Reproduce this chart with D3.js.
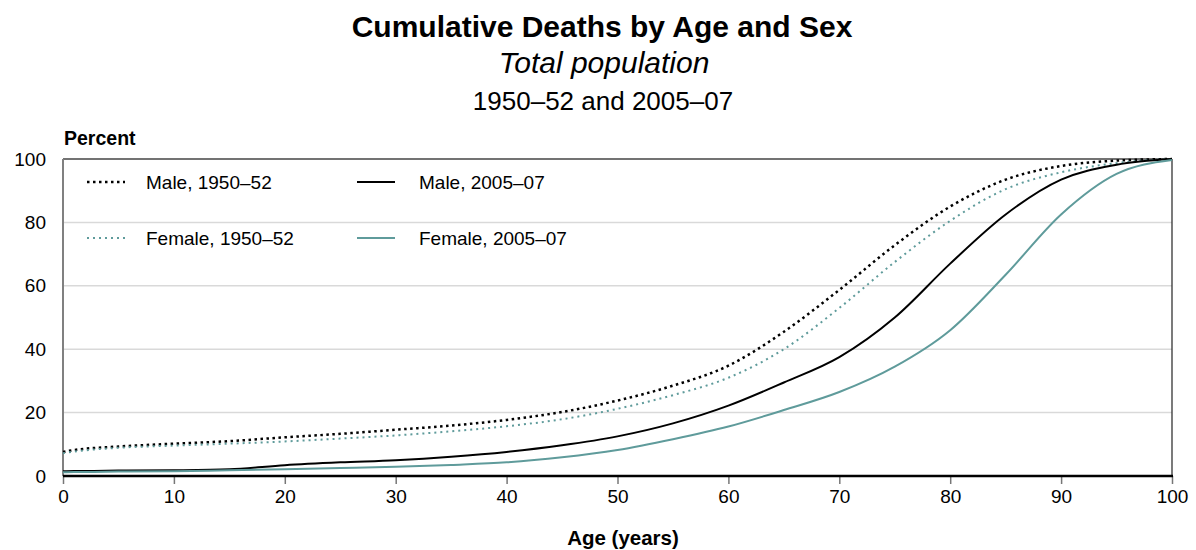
<!DOCTYPE html>
<html><head><meta charset="utf-8">
<script src="https://cdn.jsdelivr.net/npm/d3@7"></script>
<style>
body{margin:0;background:#fff;}
text{font-family:"Liberation Sans",Arial,sans-serif;fill:#000;}
</style></head>
<body><svg id="c" width="1196" height="550"></svg>
<script>
const ages = [0,1,2,5,10,15,20,25,30,35,40,45,50,55,60,65,70,75,80,85,90,95,100];
const male1950   = [7.6,8.2,8.6,9.3,10.2,11.0,12.2,13.3,14.6,15.9,17.7,20.2,23.8,28.5,34.8,45.5,58.7,72.8,85,93.5,97.8,99.5,100];
const female1950 = [7.2,7.7,8.1,8.9,9.6,10.2,10.9,11.8,12.8,14.1,15.7,17.9,21.2,25.5,31.0,40,53,67.5,80.5,90.5,95.8,98.7,100];
const male2005   = [1.5,1.6,1.6,1.7,1.8,2.1,3.4,4.3,5.0,6.1,7.6,9.7,12.5,16.6,22.2,29.5,37.5,50,67,82.5,93.5,98.2,100];
const female2005 = [1.2,1.3,1.3,1.4,1.5,1.8,2.1,2.5,2.9,3.5,4.3,5.9,8.2,11.6,15.6,20.8,26.5,34.5,46,63.5,82.5,95.3,99.7];
const xTicks = [0,10,20,30,40,50,60,70,80,90,100];
const yTicks = [0,20,40,60,80,100];
const seriesNames = ["Male, 1950–52","Female, 1950–52","Male, 2005–07","Female, 2005–07"];

const teal = "#5f9b9b";
const styles = [
  {color:"#000", width:2.5, dash:"2.5,3.5"},
  {color:teal, width:2, dash:"2,4"},
  {color:"#000", width:2, dash:null},
  {color:teal, width:2, dash:null}
];
const data = [male1950,female1950,male2005,female2005];

const svg = d3.select("#c");
const L=63, R=1172, T=159, B=476;
const x = d3.scaleLinear().domain([0,100]).range([L,R]);
const y = d3.scaleLinear().domain([0,100]).range([B,T]);

// titles
svg.append("text").attr("x",602).attr("y",37).attr("text-anchor","middle")
  .style("font-size","30px").style("font-weight","bold").text("Cumulative Deaths by Age and Sex");
svg.append("text").attr("x",604).attr("y",73).attr("text-anchor","middle")
  .style("font-size","30px").style("font-style","italic").text("Total population");
svg.append("text").attr("x",603).attr("y",110).attr("text-anchor","middle")
  .style("font-size","26px").text("1950–52 and 2005–07");

// grid
svg.append("g").selectAll("line").data(yTicks.filter(d=>d>0&&d<100)).join("line")
  .attr("x1",L).attr("x2",R).attr("y1",d=>y(d)).attr("y2",d=>y(d))
  .attr("stroke","#d9d9d9").attr("stroke-width",1.5);

// frame
svg.append("line").attr("x1",L).attr("x2",R).attr("y1",T).attr("y2",T).attr("stroke","#444").attr("stroke-width",1.5);
svg.append("line").attr("x1",R).attr("x2",R).attr("y1",T).attr("y2",B).attr("stroke","#222").attr("stroke-width",1.2);
svg.append("line").attr("x1",L).attr("x2",L).attr("y1",T).attr("y2",B).attr("stroke","#808080").attr("stroke-width",2);

// y axis labels
const ya = svg.append("g").attr("transform",`translate(${L},0)`)
  .call(d3.axisLeft(y).tickValues(yTicks).tickSize(0).tickPadding(17));
ya.select(".domain").remove();
ya.selectAll("text").style("font-size","19px").style("font-family","Liberation Sans, Arial, sans-serif");

// x axis
const xa = svg.append("g").attr("transform",`translate(0,${B})`)
  .call(d3.axisBottom(x).tickValues(xTicks).tickSize(8).tickPadding(6));
xa.select(".domain").remove();
xa.selectAll(".tick line").attr("stroke","#777").attr("stroke-width",1.5);
xa.selectAll("text").style("font-size","19px").style("font-family","Liberation Sans, Arial, sans-serif");
svg.append("line").attr("x1",L).attr("x2",R+1).attr("y1",B).attr("y2",B).attr("stroke","#000").attr("stroke-width",2.5);

svg.append("text").attr("x",64).attr("y",145).style("font-size","19.5px").style("font-weight","bold").text("Percent");
svg.append("text").attr("x",623).attr("y",545).attr("text-anchor","middle")
  .style("font-size","20.5px").style("font-weight","bold").text("Age (years)");

// lines
const line = d3.line().x((d,i)=>x(ages[i])).y(d=>y(d)).curve(d3.curveMonotoneX);
data.forEach((s,k)=>{
  svg.append("path").datum(s).attr("d",line).attr("fill","none")
    .attr("stroke",styles[k].color).attr("stroke-width",styles[k].width)
    .attr("stroke-dasharray",styles[k].dash);
});

// legend
const legPos = [[87,182],[87,238],[357,182],[357,238]];
seriesNames.forEach((n,k)=>{
  const [lx,ly]=legPos[k];
  svg.append("line").attr("x1",lx).attr("x2",lx+38).attr("y1",ly).attr("y2",ly)
    .attr("stroke",styles[k].color).attr("stroke-width",styles[k].width)
    .attr("stroke-dasharray",styles[k].dash);
  svg.append("text").attr("x",lx+(k<2?59:62)).attr("y",ly+7).style("font-size","19px").text(n);
});
</script></body></html>
